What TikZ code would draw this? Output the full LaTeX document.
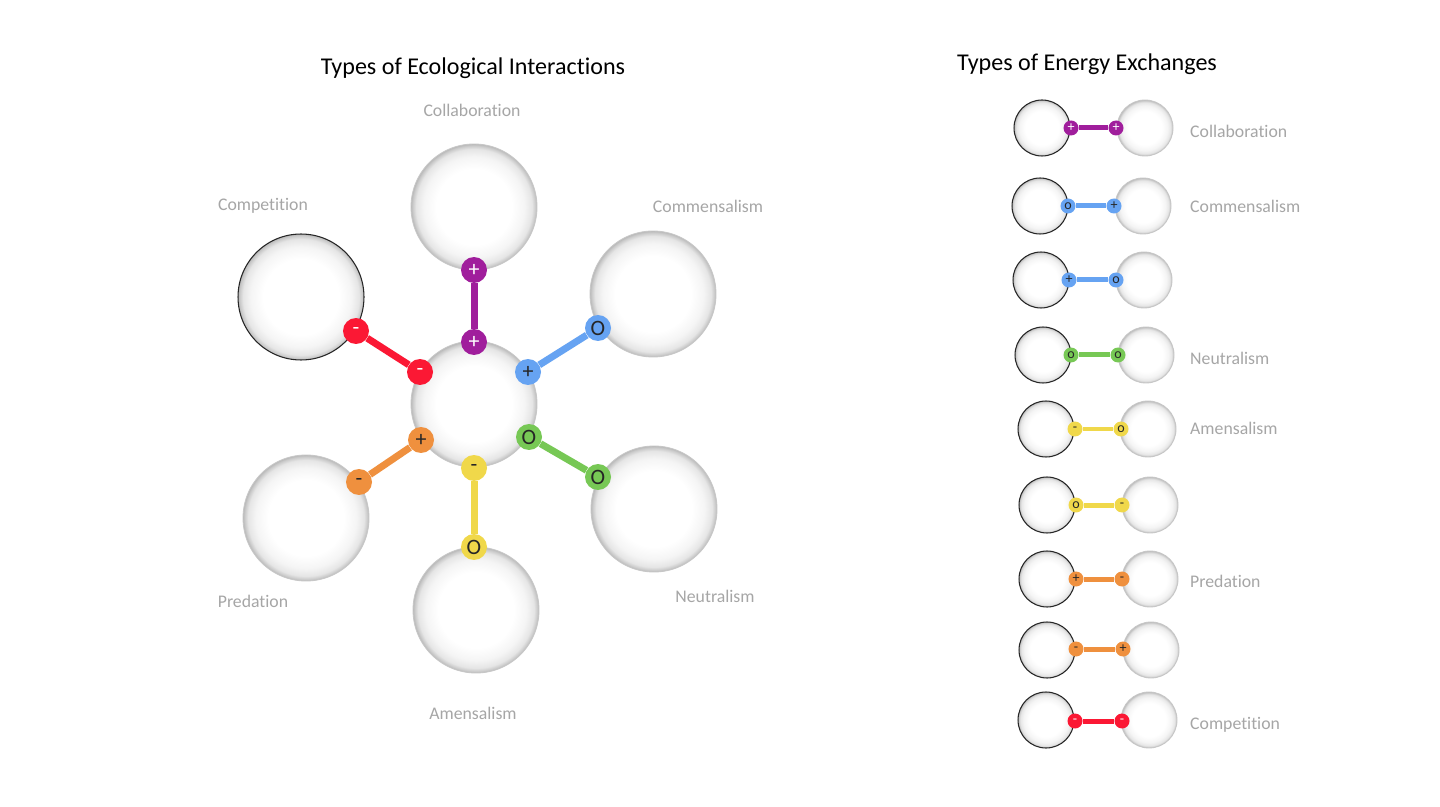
\documentclass[tikz,border=0pt]{standalone}
\usepackage{fontspec}
\setmainfont{Carlito}[Ligatures=NoCommon]
\usepackage{tikz}

\definecolor{collab}{HTML}{A01E9C}
\definecolor{comm}{HTML}{66A3F2}
\definecolor{neutr}{HTML}{77C855}
\definecolor{amens}{HTML}{F0D84A}
\definecolor{pred}{HTML}{EF903E}
\definecolor{compet}{HTML}{FB1834}
\definecolor{lbl}{HTML}{A6A6A6}

\pgfdeclareradialshading{bubble}{\pgfpoint{0cm}{0cm}}{%
  color(0bp)=(white); color(15bp)=(white); color(20bp)=(black!4);
  color(23bp)=(black!10); color(24.5bp)=(black!22); color(25bp)=(black!28);
  color(50bp)=(black!28)}

\pgfdeclarelayer{bubbles}
\pgfdeclarelayer{links}
\pgfsetlayers{bubbles,links,main}

\tikzset{
  cell/.style={circle, shading=bubble, draw=black!22, line width=0.5pt, inner sep=0pt},
  bigcell/.style={cell, minimum size=2.52cm},
  smallcell/.style={cell, minimum size=1.12cm},
  outlined/.style={draw=black!85, line width=0.6pt},
  badge/.style={circle, fill=#1, inner sep=0pt, minimum size=0.52cm,
    font=\fontsize{12.5}{12.5}\selectfont, text=black!85},
  minibadge/.style={circle, fill=#1, inner sep=0pt, minimum size=0.3cm,
    font=\fontsize{8}{8}\selectfont, text=black!85},
  link/.style={draw=#1, line width=0.14cm},
  minilink/.style={draw=#1, line width=0.1cm},
  title/.style={font=\fontsize{13.7}{13.7}\selectfont, text=black},
  kind/.style={font=\fontsize{10.1}{10.1}\selectfont, text=lbl},
}

\begin{document}
\begin{tikzpicture}[x=0.02cm, y=-0.02cm]
    \begin{pgfonlayer}{bubbles}
    \fill[white] (0,0) rectangle (1440,807);
    \end{pgfonlayer}
    \useasboundingbox (0,0) rectangle (1440,807);
    % titles
    \node[title] (ltitle) at (473,68) {Types of Ecological Interactions};
    \node[title] (rtitle) at (1087,64) {Types of Energy Exchanges};
    % interaction labels
    \node[kind] (lcoll) at (472,110) {Collaboration};
    \node[kind] (lcomp) at (263,206) {Competition};
    \node[kind] (lcomm) at (708,206) {Commensalism};
    \node[kind] (lpred) at (253,601) {Predation};
    \node[kind] (lneut) at (715,596) {Neutralism};
    \node[kind] (lamen) at (473,713) {Amensalism};
    % organisms
    \begin{pgfonlayer}{bubbles}
    \node[bigcell] (centre) at (474,404) {};
    \node[bigcell] (coll) at (474,207) {};
    \node[bigcell, outlined] (comp) at (301,297) {};
    \node[bigcell] (comm) at (653,294) {};
    \node[bigcell] (pred) at (306,518) {};
    \node[bigcell] (neut) at (654,509) {};
    \node[bigcell] (amen) at (476,610) {};
    \end{pgfonlayer}
    % effects
    \node[badge=collab, text=white] (collA) at (474,270) {+};
    \node[badge=collab, text=white] (collB) at (474,342) {+};
    \node[badge=compet, text=white] (compA) at (356,331) {-};
    \node[badge=compet, text=white] (compB) at (420,372) {-};
    \node[badge=comm] (commA) at (598,328) {O};
    \node[badge=comm] (commB) at (528,372) {+};
    \node[badge=neutr] (neutA) at (529,437) {O};
    \node[badge=neutr] (neutB) at (598,477) {O};
    \node[badge=amens] (amenA) at (474,468) {-};
    \node[badge=amens] (amenB) at (474,547) {O};
    \node[badge=pred] (predA) at (421,440) {+};
    \node[badge=pred] (predB) at (359,482) {-};
    \begin{pgfonlayer}{links}
    \draw[link=collab] (collA) -- (collB);
    \draw[link=compet] (compA) -- (compB);
    \draw[link=comm] (commA) -- (commB);
    \draw[link=neutr] (neutA) -- (neutB);
    \draw[link=amens] (amenA) -- (amenB);
    \draw[link=pred] (predA) -- (predB);
    \end{pgfonlayer}
    % exchange pairs
    \begin{pgfonlayer}{bubbles}
    \node[smallcell, outlined] (p1l) at (1042,128) {};
    \node[smallcell] (p1r) at (1145,128) {};
    \node[smallcell, outlined] (p2l) at (1040,206) {};
    \node[smallcell] (p2r) at (1143,206) {};
    \node[smallcell, outlined] (p3l) at (1041,280) {};
    \node[smallcell] (p3r) at (1144,280) {};
    \node[smallcell, outlined] (p4l) at (1043,355) {};
    \node[smallcell] (p4r) at (1146,355) {};
    \node[smallcell, outlined] (p5l) at (1046,429) {};
    \node[smallcell] (p5r) at (1148,429) {};
    \node[smallcell, outlined] (p6l) at (1047,505) {};
    \node[smallcell] (p6r) at (1150,505) {};
    \node[smallcell, outlined] (p7l) at (1047,579) {};
    \node[smallcell] (p7r) at (1150,579) {};
    \node[smallcell, outlined] (p8l) at (1047,650) {};
    \node[smallcell] (p8r) at (1151,650) {};
    \node[smallcell, outlined] (p9l) at (1046,720) {};
    \node[smallcell] (p9r) at (1149,720) {};
    \end{pgfonlayer}
    \node[minibadge=collab, text=white] (e1a) at (1071,128) {+};
    \node[minibadge=collab, text=white] (e1b) at (1116,128) {+};
    \node[minibadge=comm] (e2a) at (1068,206) {o};
    \node[minibadge=comm] (e2b) at (1114,206) {+};
    \node[minibadge=comm] (e3a) at (1069,280) {+};
    \node[minibadge=comm] (e3b) at (1116,280) {o};
    \node[minibadge=neutr] (e4a) at (1071,355) {o};
    \node[minibadge=neutr] (e4b) at (1118,355) {o};
    \node[minibadge=amens] (e5a) at (1075,429) {-};
    \node[minibadge=amens] (e5b) at (1121,429) {o};
    \node[minibadge=amens] (e6a) at (1076,505) {o};
    \node[minibadge=amens] (e6b) at (1122,505) {-};
    \node[minibadge=pred] (e7a) at (1076,579) {+};
    \node[minibadge=pred] (e7b) at (1122,579) {-};
    \node[minibadge=pred] (e8a) at (1076,649) {-};
    \node[minibadge=pred] (e8b) at (1123,649) {+};
    \node[minibadge=compet, text=white] (e9a) at (1075,721) {-};
    \node[minibadge=compet, text=white] (e9b) at (1122,721) {-};
    \begin{pgfonlayer}{links}
    \draw[minilink=collab] (e1a) -- (e1b);
    \draw[minilink=comm] (e2a) -- (e2b);
    \draw[minilink=comm] (e3a) -- (e3b);
    \draw[minilink=neutr] (e4a) -- (e4b);
    \draw[minilink=amens] (e5a) -- (e5b);
    \draw[minilink=amens] (e6a) -- (e6b);
    \draw[minilink=pred] (e7a) -- (e7b);
    \draw[minilink=pred] (e8a) -- (e8b);
    \draw[minilink=compet] (e9a) -- (e9b);
    \end{pgfonlayer}
    % exchange labels
    \node[kind, anchor=west] (k1) at (1184,131) {Collaboration};
    \node[kind, anchor=west] (k2) at (1184,206) {Commensalism};
    \node[kind, anchor=west] (k4) at (1184,358) {Neutralism};
    \node[kind, anchor=west] (k5) at (1184,428) {Amensalism};
    \node[kind, anchor=west] (k7) at (1184,581) {Predation};
    \node[kind, anchor=west] (k9) at (1184,725) {Competition};
\end{tikzpicture}
\end{document}
